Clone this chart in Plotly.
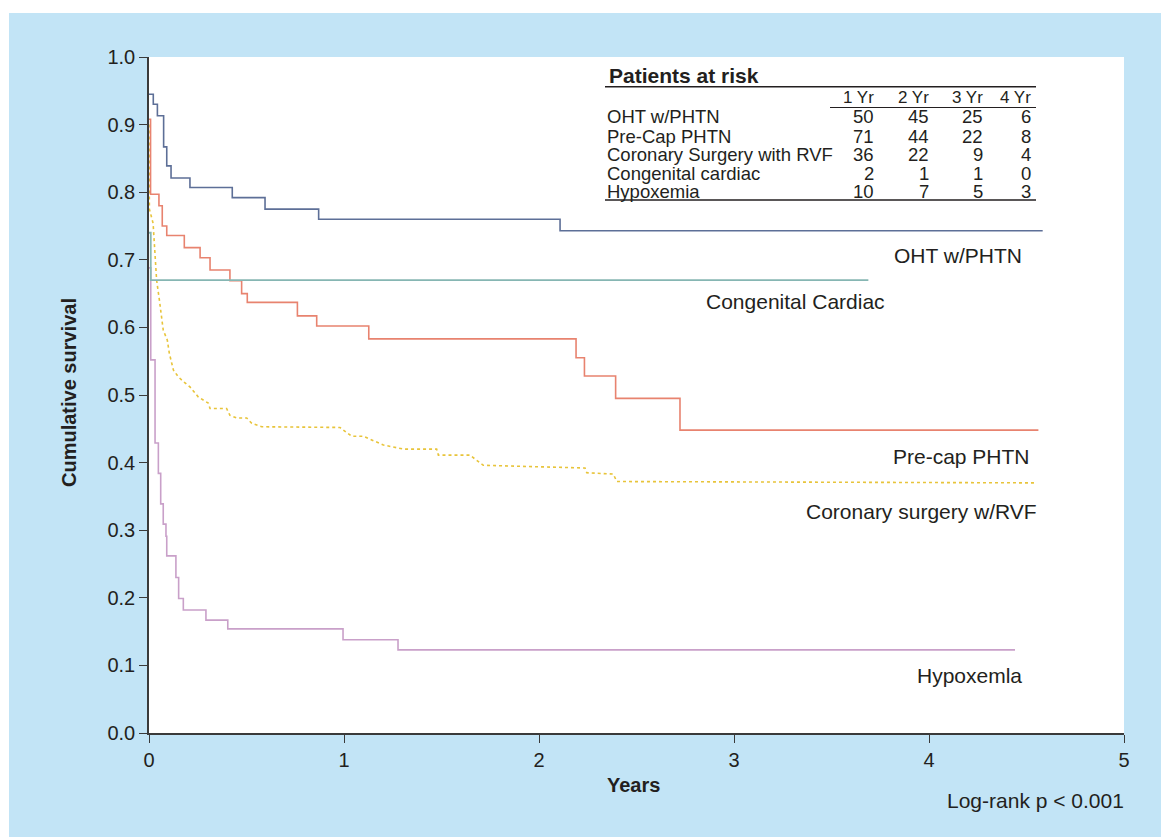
import plotly.graph_objects as go

# ---------------- data ----------------
oht_x = [0, 0.005, 0.022, 0.043, 0.075, 0.091, 0.113, 0.21, 0.427, 0.595, 0.870, 2.108, 4.583]
oht_y = [0.945, 0.945, 0.930, 0.913, 0.867, 0.839, 0.821, 0.807, 0.792, 0.775, 0.760, 0.743, 0.743]

precap_x = [0, 0.008, 0.051, 0.068, 0.091, 0.181, 0.262, 0.313, 0.415, 0.475, 0.504, 0.761, 0.860,
            1.127, 2.190, 2.233, 2.393, 2.723, 4.561]
precap_y = [0.908, 0.797, 0.780, 0.750, 0.736, 0.718, 0.703, 0.685, 0.669, 0.650, 0.637, 0.617, 0.602,
            0.583, 0.555, 0.528, 0.495, 0.448, 0.448]

cong_x = [0, 0.009, 3.689]
cong_y = [0.74, 0.67, 0.67]

cabg_x = [0, 0.002, 0.021, 0.031, 0.039, 0.053, 0.065, 0.073, 0.094, 0.104,
          0.125, 0.150, 0.176, 0.210, 0.253, 0.304, 0.313, 0.398, 0.415, 0.450,
          0.501, 0.527, 0.578, 0.979, 1.039, 1.099, 1.202, 1.304, 1.475, 1.484,
          1.646, 1.714, 2.236, 2.245, 2.381, 2.399, 4.544]
cabg_y = [0.90, 0.775, 0.754, 0.714, 0.670, 0.641, 0.616, 0.596, 0.581, 0.562,
          0.537, 0.527, 0.520, 0.512, 0.497, 0.488, 0.480, 0.480, 0.470, 0.466,
          0.466, 0.458, 0.453, 0.452, 0.439, 0.439, 0.426, 0.420, 0.420, 0.411,
          0.411, 0.396, 0.392, 0.385, 0.383, 0.372, 0.370]

hypo_x = [0, 0.009, 0.031, 0.048, 0.060, 0.073, 0.087, 0.091, 0.138, 0.152, 0.176, 0.292, 0.404,
          0.995, 1.277, 4.441]
hypo_y = [0.688, 0.552, 0.429, 0.384, 0.339, 0.309, 0.291, 0.262, 0.230, 0.199, 0.182, 0.167, 0.154,
          0.138, 0.123, 0.123]

curve_labels = ["OHT w/PHTN", "Congenital Cardiac", "Pre-cap PHTN", "Coronary surgery w/RVF", "Hypoxemla"]

risk_title = "Patients at risk"
risk_cols = ["1 Yr", "2 Yr", "3 Yr", "4 Yr"]
risk_rows = ["OHT w/PHTN", "Pre-Cap PHTN", "Coronary Surgery with RVF", "Congenital cardiac", "Hypoxemia"]
risk_vals = [[50, 45, 25, 6],
             [71, 44, 22, 8],
             [36, 22, 9, 4],
             [2, 1, 1, 0],
             [10, 7, 5, 3]]

y_ticks = [0.0, 0.1, 0.2, 0.3, 0.4, 0.5, 0.6, 0.7, 0.8, 0.9, 1.0]
x_ticks = [0, 1, 2, 3, 4, 5]

# ---------------- styling / layout helpers ----------------
W, H = 1161, 837
L, R, T, B = 149, 37, 57, 104
PW, PH = W - L - R, H - T - B
FONT = "Liberation Sans, Arial, Helvetica, sans-serif"
TXT = "#231f20"
BLUE = "#c2e4f6"


def px(xp):
    return (xp - L) / PW


def py(yp):
    return (H - B - yp) / PH


fig = go.Figure()

fig.add_trace(go.Scatter(x=hypo_x, y=hypo_y, mode="lines", line=dict(color="#c9a0c9", width=1.6, shape="hv"),
                         hoverinfo="skip", showlegend=False))
fig.add_trace(go.Scatter(x=cabg_x, y=cabg_y, mode="lines", line=dict(color="#e8c43a", width=1.6, dash="3px,3px"),
                         hoverinfo="skip", showlegend=False))
fig.add_trace(go.Scatter(x=precap_x, y=precap_y, mode="lines", line=dict(color="#e8836f", width=1.6, shape="hv"),
                         hoverinfo="skip", showlegend=False))
fig.add_trace(go.Scatter(x=oht_x, y=oht_y, mode="lines", line=dict(color="#5d6f97", width=1.6, shape="hv"),
                         hoverinfo="skip", showlegend=False))
fig.add_trace(go.Scatter(x=cong_x, y=cong_y, mode="lines", line=dict(color="#86b6b3", width=1.8, shape="hv"),
                         hoverinfo="skip", showlegend=False))

ann = []
# curve labels
label_pos = [(958, 255), (795, 301), (961, 456), (921, 511), (969, 675)]
for txt, (xp, yp) in zip(curve_labels, label_pos):
    ann.append(dict(x=px(xp), y=py(yp), xref="paper", yref="paper", text=txt, showarrow=False,
                    xanchor="center", yanchor="middle", font=dict(size=21, color=TXT, family=FONT)))

# axis titles
ann.append(dict(x=px(633), y=py(785), xref="paper", yref="paper", text="<b>Years</b>", showarrow=False,
                xanchor="center", yanchor="middle", font=dict(size=20, color=TXT, family=FONT)))
ann.append(dict(x=px(69), y=py(393), xref="paper", yref="paper", text="<b>Cumulative survival</b>",
                showarrow=False, textangle=-90, xanchor="center", yanchor="middle",
                font=dict(size=20, color=TXT, family=FONT)))
ann.append(dict(x=px(1126), y=py(800), xref="paper", yref="paper", text="Log-rank p < 0.001", showarrow=False,
                xanchor="right", yanchor="middle", font=dict(size=21, color=TXT, family=FONT)))

# table
ann.append(dict(x=px(607), y=py(75), xref="paper", yref="paper", text="<b>" + risk_title + "</b>",
                showarrow=False, xanchor="left", yanchor="middle", font=dict(size=21, color=TXT, family=FONT)))
col_right = [876, 931, 985, 1033]
for c, xr in zip(risk_cols, col_right):
    ann.append(dict(x=px(xr), y=py(97.5), xref="paper", yref="paper", text=c, showarrow=False,
                    xanchor="right", yanchor="middle", font=dict(size=17, color=TXT, family=FONT)))
row_y = [116.7, 136, 155, 173.5, 192]
for name, vals, yp in zip(risk_rows, risk_vals, row_y):
    ann.append(dict(x=px(605), y=py(yp), xref="paper", yref="paper", text=name, showarrow=False,
                    xanchor="left", yanchor="middle", font=dict(size=18.5, color=TXT, family=FONT)))
    for v, xr in zip(vals, col_right):
        ann.append(dict(x=px(xr), y=py(yp), xref="paper", yref="paper", text=str(v), showarrow=False,
                        xanchor="right", yanchor="middle", font=dict(size=18.5, color=TXT, family=FONT)))

shapes = [
    # white outer border (left and top)
    dict(type="rect", xref="paper", yref="paper", x0=px(-5), x1=px(9), y0=py(H + 5), y1=py(-5),
         fillcolor="white", line=dict(width=0), layer="above"),
    dict(type="rect", xref="paper", yref="paper", x0=px(-5), x1=px(W + 5), y0=py(13), y1=py(-5),
         fillcolor="white", line=dict(width=0), layer="above"),
    # table rules
    dict(type="line", xref="paper", yref="paper", x0=px(605), x1=px(1036), y0=py(86.7), y1=py(86.7),
         line=dict(color=TXT, width=1.6)),
    dict(type="line", xref="paper", yref="paper", x0=px(830), x1=px(1036), y0=py(107.5), y1=py(107.5),
         line=dict(color=TXT, width=1.1)),
    dict(type="line", xref="paper", yref="paper", x0=px(605), x1=px(1036), y0=py(200), y1=py(200),
         line=dict(color=TXT, width=1.6)),
]

fig.update_layout(
    width=W, height=H,
    margin=dict(l=L, r=R, t=T, b=B, pad=0),
    paper_bgcolor=BLUE, plot_bgcolor="white",
    font=dict(family=FONT, color=TXT),
    showlegend=False,
    annotations=ann, shapes=shapes,
    xaxis=dict(range=[0, 5], tickvals=x_ticks, ticktext=[str(v) for v in x_ticks],
               showgrid=False, zeroline=False, showline=True, linecolor="#3a3a3a", linewidth=1.6,
               ticks="outside", ticklen=8, tickwidth=1.4, tickcolor="#3a3a3a",
               tickfont=dict(size=20, color=TXT, family=FONT), fixedrange=True),
    yaxis=dict(range=[0, 1.0], tickvals=y_ticks, ticktext=["%.1f" % v for v in y_ticks],
               showgrid=False, zeroline=False, showline=True, linecolor="#3a3a3a", linewidth=1.6,
               ticks="outside", ticklen=8, tickwidth=1.4, tickcolor="#3a3a3a",
               tickfont=dict(size=20, color=TXT, family=FONT), fixedrange=True),
)

fig.write_html("out.html", config={"displayModeBar": False},
               post_script="document.body.style.margin='0';document.body.style.overflow='hidden';")
